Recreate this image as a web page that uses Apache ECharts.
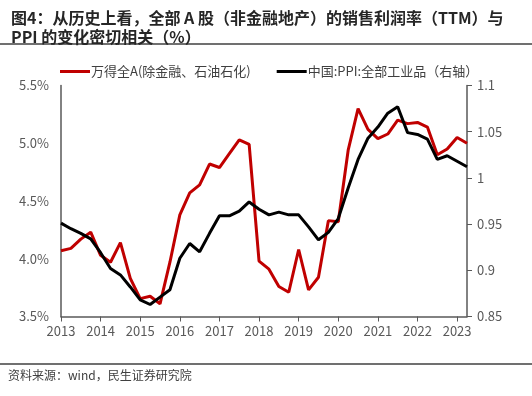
<!DOCTYPE html>
<html>
<head>
<meta charset="utf-8">
<script src="https://cdn.jsdelivr.net/npm/echarts@6/dist/echarts.min.js"></script>
<style>
html,body{margin:0;padding:0;background:#fff;}
#c{width:532px;height:396px;}
</style>
</head>
<body>
<div id="c"></div>
<script>
var quarters = [];
for (var y = 2013; y <= 2023; y++) {
  for (var q = 1; q <= 4; q++) {
    if (y === 2023 && q > 2) break;
    quarters.push(y + 'Q' + q);
  }
}
var marginA = [4.07, 4.09, 4.17, 4.23, 4.03, 3.97, 4.14, 3.83, 3.655, 3.675,
  3.61, 3.97, 4.38, 4.57, 4.64, 4.82, 4.79, 4.91, 5.03, 4.99,
  3.98, 3.91, 3.76, 3.71, 4.08, 3.73, 3.84, 4.33, 4.32, 4.94,
  5.30, 5.12, 5.04, 5.08, 5.20, 5.17, 5.18, 5.14, 4.90, 4.95,
  5.05, 5.00];
var ppi = [0.951, 0.945, 0.940, 0.934, 0.919, 0.902, 0.895, 0.882, 0.868, 0.863,
  0.871, 0.879, 0.913, 0.929, 0.920, 0.940, 0.959, 0.959, 0.964, 0.974,
  0.966, 0.960, 0.963, 0.960, 0.960, 0.947, 0.933, 0.941, 0.956, 0.989,
  1.020, 1.043, 1.055, 1.070, 1.077, 1.049, 1.047, 1.042, 1.020, 1.024,
  1.018, 1.012];
var seriesNames = ['万得全A(除金融、石油石化)', '中国:PPI:全部工业品（右轴）'];
var titleText = '图4：从历史上看，全部 A 股（非金融地产）的销售利润率（TTM）与\nPPI 的变化密切相关（%）';
var sourceText = '资料来源：wind，民生证券研究院';

var FONT = '"Noto Sans CJK SC", "Noto Sans", sans-serif';
var chart = echarts.init(document.getElementById('c'), null, {renderer: 'canvas'});
chart.setOption({
  animation: false,
  backgroundColor: '#fff',
  title: {
    text: titleText,
    left: 6, top: 3,
    textStyle: {fontFamily: FONT, fontSize: 16, fontWeight: 'bold', color: '#262626', lineHeight: 19}
  },
  graphic: [
    {type: 'line', shape: {x1: 0, y1: 44, x2: 532, y2: 44}, style: {stroke: '#404040', lineWidth: 1.5}},
    {type: 'line', shape: {x1: 0, y1: 364, x2: 532, y2: 364}, style: {stroke: '#404040', lineWidth: 1.5}},
    {type: 'text', left: 8, top: 369, style: {text: sourceText, font: '12px ' + FONT, fill: '#404040'}}
  ],
  legend: {
    top: 60, left: 55,
    itemWidth: 30, itemHeight: 3, itemGap: 26,
    icon: 'rect',
    textStyle: {fontFamily: FONT, fontSize: 13, color: '#404040', padding: [0, 0, 0, -4]},
    data: seriesNames
  },
  grid: {left: 61, right: 65, top: 85.5, bottom: 79.5, containLabel: false},
  xAxis: {
    type: 'category',
    data: quarters,
    boundaryGap: false,
    axisLine: {lineStyle: {color: '#595959', width: 1.5}},
    axisTick: {interval: 3, length: 5, lineStyle: {color: '#595959'}},
    axisLabel: {
      interval: 3,
      fontFamily: FONT, fontSize: 13, color: '#595959', margin: 8,
      formatter: function (v) { return v.slice(0, 4); }
    },
    splitLine: {show: false}
  },
  yAxis: [
    {
      type: 'value', min: 3.5, max: 5.5, interval: 0.5, position: 'left',
      axisLine: {show: true, lineStyle: {color: '#595959', width: 1.5}},
      axisTick: {show: false},
      axisLabel: {fontFamily: FONT, fontSize: 13, color: '#595959', margin: 12,
        formatter: function (v) { return v.toFixed(1) + '%'; }},
      splitLine: {show: false}
    },
    {
      type: 'value', min: 0.85, max: 1.1, interval: 0.05, position: 'right',
      axisLine: {show: true, lineStyle: {color: '#595959', width: 1.5}},
      axisTick: {show: true, inside: false, length: 5, lineStyle: {color: '#595959'}},
      axisLabel: {fontFamily: FONT, fontSize: 13, color: '#595959', margin: 10,
        formatter: function (v) { return String(parseFloat(v.toFixed(2))); }},
      splitLine: {show: false}
    }
  ],
  series: [
    {
      name: seriesNames[0], type: 'line', yAxisIndex: 0, data: marginA,
      showSymbol: false, symbol: 'none',
      lineStyle: {color: '#C00000', width: 3}, itemStyle: {color: '#C00000'}
    },
    {
      name: seriesNames[1], type: 'line', yAxisIndex: 1, data: ppi,
      showSymbol: false, symbol: 'none',
      lineStyle: {color: '#000000', width: 3}, itemStyle: {color: '#000000'}
    }
  ]
});
</script>
</body>
</html>
